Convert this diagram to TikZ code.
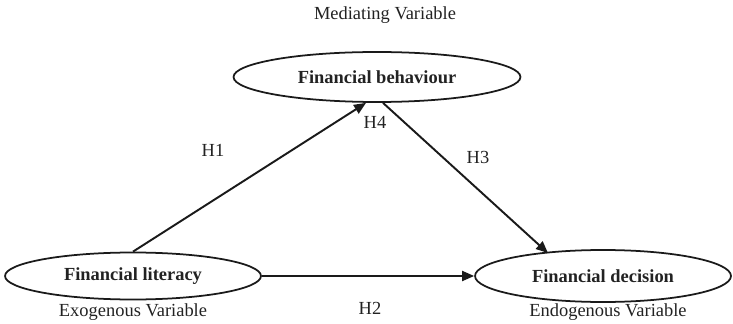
\documentclass[tikz,border=0pt]{standalone}
\usepackage{fontspec}
\setmainfont{Liberation Serif}
\usetikzlibrary{arrows.meta}
\usetikzlibrary{shapes.geometric}
\definecolor{fg}{HTML}{1A1A1A}
\definecolor{tx}{HTML}{222222}

\begin{document}
\begin{tikzpicture}[x=0.02cm, y=-0.02cm,
  construct/.style={draw=fg, line width=1pt, ellipse, inner sep=0pt, font=\fontsize{10.5}{12}\selectfont\bfseries, text=tx},
  caption/.style={font=\fontsize{10.5}{12}\selectfont, text=tx},
  path/.style={draw=fg, line width=1.1pt, -{Triangle[length=2.4mm, width=2mm]}}]
  \useasboundingbox (0,0) rectangle (733,324);

  % constructs
  \node[construct, minimum width=5.74cm, minimum height=1.0cm] (beh) at (377,77) {Financial behaviour};
  \node[construct, minimum width=5.12cm, minimum height=0.94cm] (lit) at (133,276) {Financial literacy};
  \node[construct, minimum width=5.12cm, minimum height=1.04cm] (dec) at (603,276) {Financial decision};

  % variable types
  \node[caption] (med) at (385,15) {Mediating Variable};
  \node[caption] (exo) at (133,312) {Exogenous Variable};
  \node[caption] (endo) at (608,312) {Endogenous Variable};

  % hypotheses
  \draw[path] (lit.north) -- ([xshift=-0.22cm]beh.south);
  \draw[path] ([xshift=0.12cm]beh.south) -- ([xshift=-1.1cm, yshift=-0.08cm]dec.north);
  \draw[path] (lit.east) -- (dec.west);

  \node[caption] (h1) at (213,150) {H1};
  \node[caption] (h4) at (375,122) {H4};
  \node[caption] (h3) at (478,157) {H3};
  \node[caption] (h2) at (370,308) {H2};
\end{tikzpicture}
\end{document}
